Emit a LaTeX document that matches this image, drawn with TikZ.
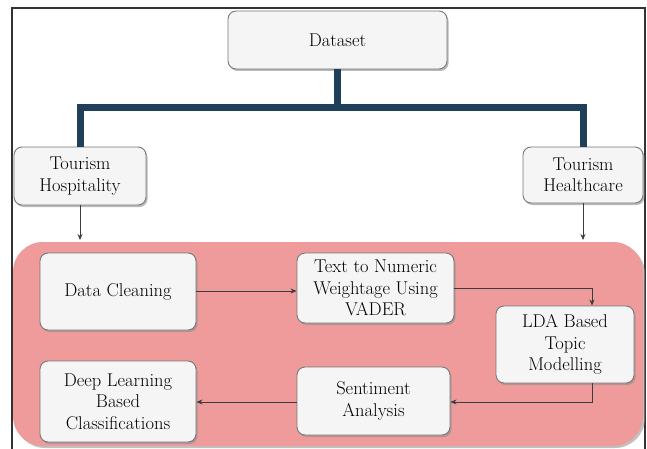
\documentclass[tikz,border=0pt]{standalone}
\usetikzlibrary{arrows.meta,shadows,calc}
\definecolor{barblue}{HTML}{1F3F5B}
\definecolor{pinkbg}{RGB}{240,155,155}
\definecolor{boxfill}{RGB}{245,245,245}
\definecolor{boxline}{RGB}{120,120,120}
\definecolor{arrowcol}{RGB}{60,60,60}
\begin{document}
\begin{tikzpicture}[x=1pt,y=-1pt,
  procbox/.style={draw=boxline, line width=0.9pt, fill=boxfill, rounded corners=8pt,
    align=center, inner sep=2pt, font=\fontsize{18.5}{21.5}\selectfont,
    drop shadow={shadow xshift=1.5pt, shadow yshift=-2pt, fill=black!45, opacity=0.6}},
  thickbar/.style={draw=barblue, line width=7pt},
  flow/.style={draw=arrowcol, line width=0.9pt, -{Stealth[length=6pt,width=5pt]}}]
\useasboundingbox (0,0) rectangle (647,449);
\fill[white] (0,0) rectangle (647,449);
% frame
\draw[line width=1.3pt, black!80] (12,449) -- (12,8) -- (645,8) -- (645,449);
% pink panel
\fill[pinkbg, rounded corners=30pt, drop shadow={shadow xshift=2pt, shadow yshift=-2pt, fill=black!40, opacity=0.6}] (13,242) rectangle (643,446);
% nodes
\node[procbox, minimum width=219pt, minimum height=58pt] (dataset) at (337.5,40) {Dataset};
\node[procbox, minimum width=132pt, minimum height=58pt] (hosp) at (80,176) {Tourism\\Hospitality};
\node[procbox, minimum width=120pt, minimum height=56pt] (health) at (583,175) {Tourism\\Healthcare};
\node[procbox, minimum width=156pt, minimum height=77pt] (clean) at (118,291.5) {Data Cleaning};
\node[procbox, minimum width=157pt, minimum height=70pt] (text) at (375.5,288) {Text to Numeric\\Weightage Using\\VADER};
\node[procbox, minimum width=138pt, minimum height=77pt] (lda) at (565,344.5) {LDA Based\\Topic\\Modelling};
\node[procbox, minimum width=156pt, minimum height=81pt] (deep) at (118,401.5) {Deep Learning\\Based\\Classifications};
\node[procbox, minimum width=153pt, minimum height=68pt] (sent) at (373.5,401) {Sentiment\\Analysis};
% thick tree connector
\coordinate (bar) at (337.5,108);
\draw[thickbar] (dataset.south) -- (bar);
\draw[thickbar] (hosp.north) -- (hosp.north |- bar) -- (health.north |- bar) -- (health.north);
% arrows into panel
\coordinate (hospin) at (80,240);
\coordinate (healthin) at (583,240);
\draw[flow] (hosp.south) -- (hospin);
\draw[flow] (health.south) -- (healthin);
% process flow
\draw[flow] (clean.east |- 0,291) -- (text.west |- 0,291);
\draw[flow] (text.east) -| ([xshift=27pt]lda.north);
\draw[flow] ([xshift=27pt]lda.south) |- (sent.east |- 0,402);
\draw[flow] (sent.west |- 0,402) -- (deep.east |- 0,402);
\end{tikzpicture}
\end{document}
